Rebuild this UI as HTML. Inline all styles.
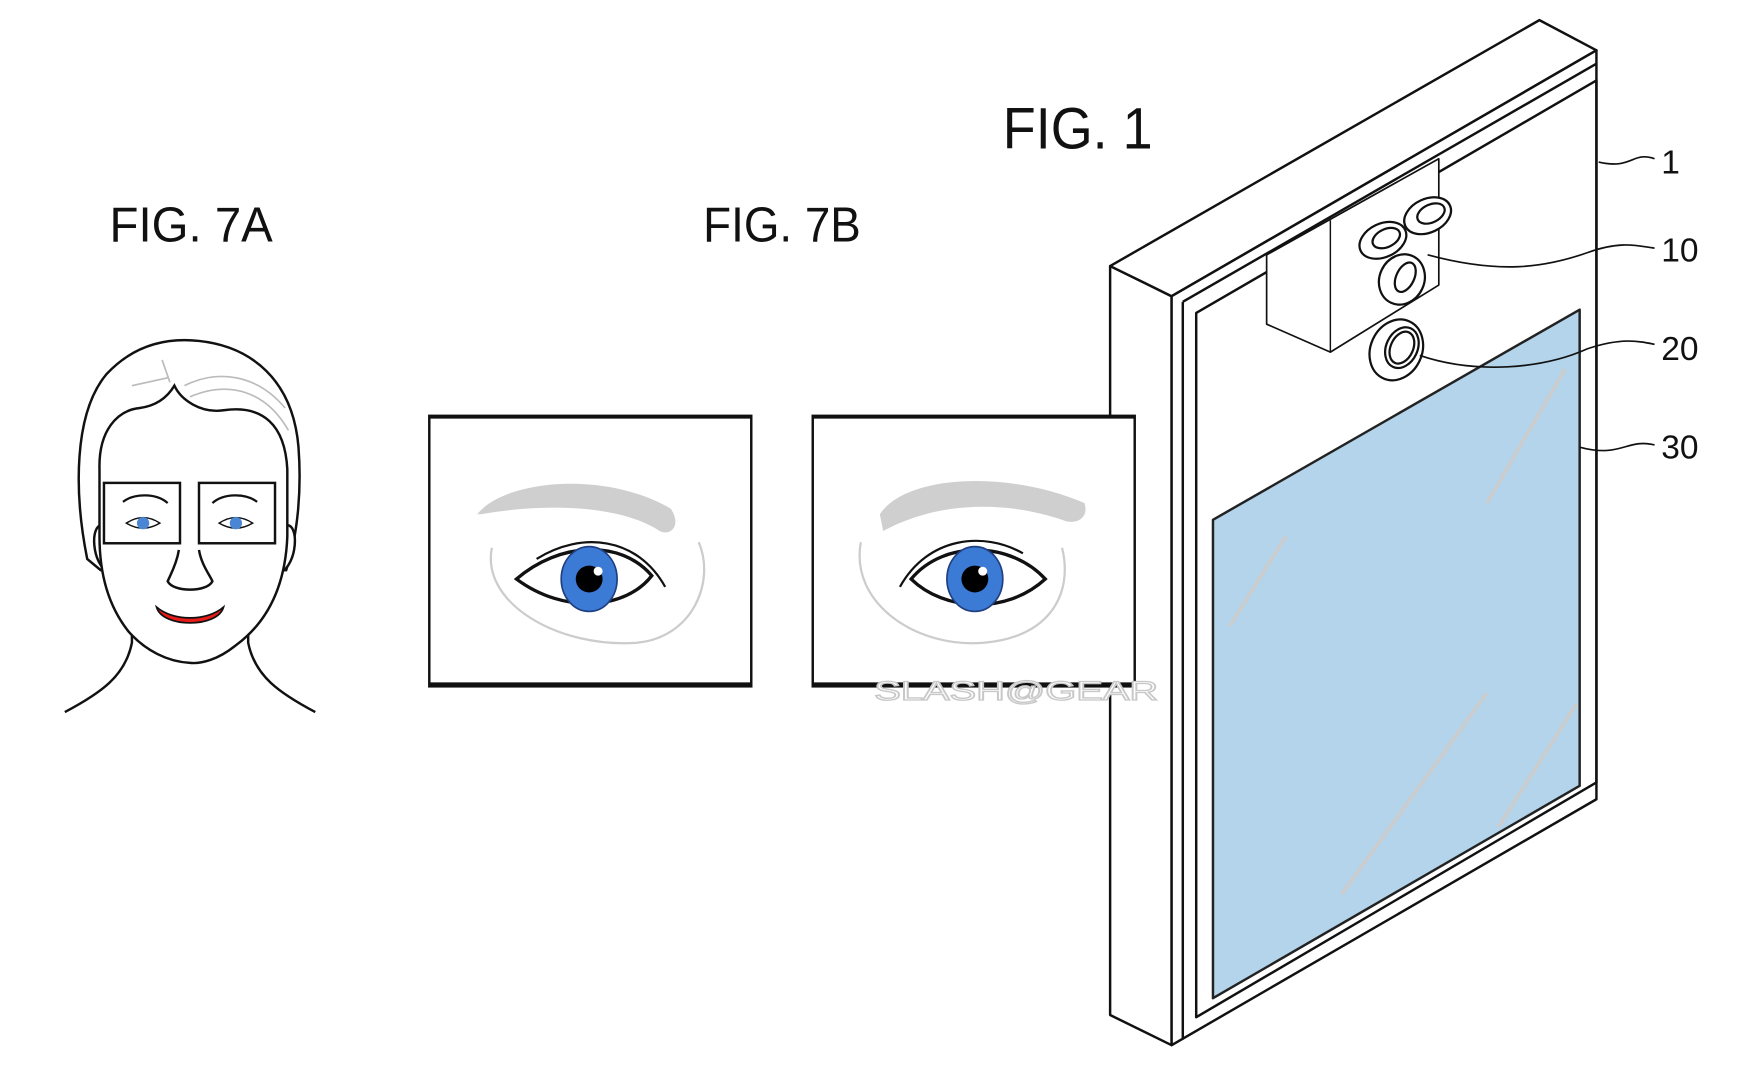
<!DOCTYPE html>
<html><head><meta charset="utf-8"><style>
html,body{margin:0;padding:0;background:#fff;width:1744px;height:1072px;overflow:hidden}
svg{display:block}
text{font-family:"Liberation Sans",sans-serif}
</style></head><body>
<svg width="1744" height="1072" viewBox="0 0 1560 959" preserveAspectRatio="none" xmlns="http://www.w3.org/2000/svg">
<rect width="1560" height="959" fill="#fff"/>
<text x="897" y="133" font-size="52" fill="#111" textLength="134" lengthAdjust="spacingAndGlyphs">FIG. 1</text>
<text x="98" y="216" font-size="44" fill="#111" textLength="146" lengthAdjust="spacingAndGlyphs">FIG. 7A</text>
<text x="629" y="216" font-size="44" fill="#111" textLength="141" lengthAdjust="spacingAndGlyphs">FIG. 7B</text>

<g stroke="#111" stroke-width="2.2" fill="#fff" stroke-linejoin="round">
  <polygon points="993,238 1048,265 1048,935 993,908"/>
  <polygon points="993,238 1377,18 1428,45 1048,265"/>
  <polygon points="1048,265 1428,45 1428,715 1048,935"/>
  <polyline points="1058,270 1428,57" fill="none"/>
  <polyline points="1058,270 1058,930" fill="none"/>
  <polygon points="1070,280 1428,72 1428,700 1070,910" fill="none"/>
  <polygon points="1085,465 1413,277 1413,703 1085,893" fill="#b3d4ea" stroke="#222"/>
  <polygon points="1133,228 1287,142 1287,255 1190,315 1133,290" fill="#fff" stroke-width="1.5"/>
  <line x1="1190" y1="197" x2="1190" y2="315" stroke-width="1.3"/>
</g>
<g stroke="#ccc" stroke-width="3" fill="none">
  <line x1="1100" y1="560" x2="1150" y2="480"/><line x1="1330" y1="450" x2="1400" y2="330"/>
  <line x1="1200" y1="800" x2="1330" y2="620"/><line x1="1340" y1="740" x2="1410" y2="630"/>
</g>
<g stroke="#111" stroke-width="2" fill="#fff">
  <ellipse cx="1277" cy="193" rx="22" ry="15" transform="rotate(-25 1277 193)"/>
  <ellipse cx="1280" cy="191" rx="13" ry="8" transform="rotate(-25 1280 191)"/>
  <ellipse cx="1237" cy="215" rx="22" ry="15" transform="rotate(-25 1237 215)"/>
  <ellipse cx="1240" cy="213" rx="13" ry="8" transform="rotate(-25 1240 213)"/>
  <ellipse cx="1254" cy="250" rx="20" ry="23" transform="rotate(25 1254 250)"/>
  <ellipse cx="1257" cy="248" rx="8" ry="14" transform="rotate(25 1257 248)"/>
  <ellipse cx="1249" cy="313" rx="23" ry="28" transform="rotate(25 1249 313)"/>
  <ellipse cx="1254" cy="311" rx="14" ry="19" transform="rotate(25 1254 311)"/>
  <ellipse cx="1254" cy="311" rx="10" ry="15" transform="rotate(25 1254 311)"/>
</g>
<g stroke="#111" stroke-width="1.5" fill="none">
  <path d="M1430,145 C1460,152 1460,135 1480,142"/>
  <path d="M1277,228 C1340,245 1380,240 1420,226 C1450,215 1465,220 1480,222"/>
  <path d="M1270,318 C1320,335 1380,330 1420,312 C1450,302 1465,305 1480,308"/>
  <path d="M1413,400 C1450,410 1455,392 1480,398"/>
</g>
<g font-size="30" fill="#111">
  <text x="1486" y="155">1</text><text x="1486" y="234">10</text>
  <text x="1486" y="322">20</text><text x="1486" y="410">30</text>
</g>

<!-- Face 7A -->
<g stroke="#111" stroke-width="2.2" fill="#fff">
  <path d="M78,500 C66,440 66,370 95,335 C120,308 150,302 178,305 C225,310 262,340 267,400 C270,440 266,480 256,510 L90,510Z"/>
  <path d="M58,637 C90,620 112,605 118,575 L118,550 M222,550 L222,575 C228,605 250,620 282,637" fill="none"/>
  <path d="M92,470 C80,468 82,505 97,512"/><path d="M256,470 C268,468 266,505 251,512"/>
  <path d="M89,420 C88,385 105,367 125,365 C140,363 150,355 156,345 C162,358 180,370 200,367 C235,362 255,380 257,420 L257,480 C255,530 235,560 210,578 C195,590 180,594 170,593 C150,592 130,582 115,565 C95,540 89,510 89,480Z"/>
  <rect x="93" y="432" width="68" height="54"/><rect x="178" y="432" width="68" height="54"/>
  <path d="M160,492 C158,505 152,515 150,520 C155,530 185,530 190,520 C188,515 180,505 178,492" fill="none"/>
  <path d="M140,543 C155,556 185,556 200,543 C195,562 145,562 140,543Z" fill="#e81a1a" stroke-width="1.5"/>
  <path d="M110,449 C120,441 140,441 150,450" fill="none" stroke-width="2"/>
  <path d="M190,450 C200,441 220,441 230,449" fill="none" stroke-width="2"/>
</g>
<g stroke="#bbb" stroke-width="1.5" fill="none">
  <path d="M165,345 C195,330 230,335 255,365"/><path d="M170,355 C205,340 238,350 258,385"/>
  <path d="M118,345 L150,338"/><path d="M145,322 L152,342"/>
</g>
<path d="M113,468 Q128,458 143,468 Q128,477 113,468Z" fill="#fff" stroke="#111" stroke-width="1.3"/>
<circle cx="128" cy="468" r="5.5" fill="#4a86d4"/>
<path d="M196,468 Q211,458 226,468 Q211,477 196,468Z" fill="#fff" stroke="#111" stroke-width="1.3"/>
<circle cx="211" cy="468" r="5.5" fill="#4a86d4"/>

<g stroke="#111" stroke-width="2.2" fill="#fff">
  <rect x="384" y="372" width="288" height="242"/>
  <rect x="727" y="372" width="288" height="242"/>
</g>
<line x1="384" y1="373" x2="672" y2="373" stroke="#111" stroke-width="3"/>
<line x1="727" y1="373" x2="1015" y2="373" stroke="#111" stroke-width="3"/>
<line x1="384" y1="612" x2="672" y2="612" stroke="#111" stroke-width="3"/>
<line x1="727" y1="612" x2="1015" y2="612" stroke="#111" stroke-width="3"/>
<path d="M427,460 C450,430 540,420 600,455 C610,470 600,480 590,475 C560,455 500,448 430,460Z" fill="#cfcfcf"/>
<path d="M440,490 C430,540 500,580 570,575 C620,570 640,520 625,485" fill="none" stroke="#ccc" stroke-width="2"/>
<path d="M462,518 C500,485 555,482 583,515 C560,545 505,550 462,518Z" fill="#fff" stroke="#111" stroke-width="3"/>
<path d="M480,500 C520,475 570,480 595,525" fill="none" stroke="#111" stroke-width="2"/>
<ellipse cx="527" cy="518" rx="25" ry="29" fill="#3b7bd6" stroke="#1f3f80" stroke-width="1.5"/>
<circle cx="527" cy="518" r="12" fill="#000"/><circle cx="535" cy="511" r="4" fill="#fff"/>
<path d="M787,460 C810,425 900,420 970,450 C975,465 960,470 950,465 C900,448 840,448 790,475Z" fill="#cfcfcf"/>
<path d="M770,485 C760,540 820,580 880,575 C940,570 960,530 950,490" fill="none" stroke="#ccc" stroke-width="2"/>
<path d="M815,518 C845,482 905,485 935,518 C900,550 845,547 815,518Z" fill="#fff" stroke="#111" stroke-width="3"/>
<path d="M805,525 C830,480 880,475 915,495" fill="none" stroke="#111" stroke-width="2"/>
<ellipse cx="872" cy="518" rx="25" ry="29" fill="#3b7bd6" stroke="#1f3f80" stroke-width="1.5"/>
<circle cx="872" cy="518" r="12" fill="#000"/><circle cx="879" cy="511" r="4" fill="#fff"/>
<text x="782" y="626" font-size="24" fill="#fff" stroke="#c8c8c8" stroke-width="1.2" textLength="254" lengthAdjust="spacingAndGlyphs">SLASH@GEAR</text>
</svg>
</body></html>
